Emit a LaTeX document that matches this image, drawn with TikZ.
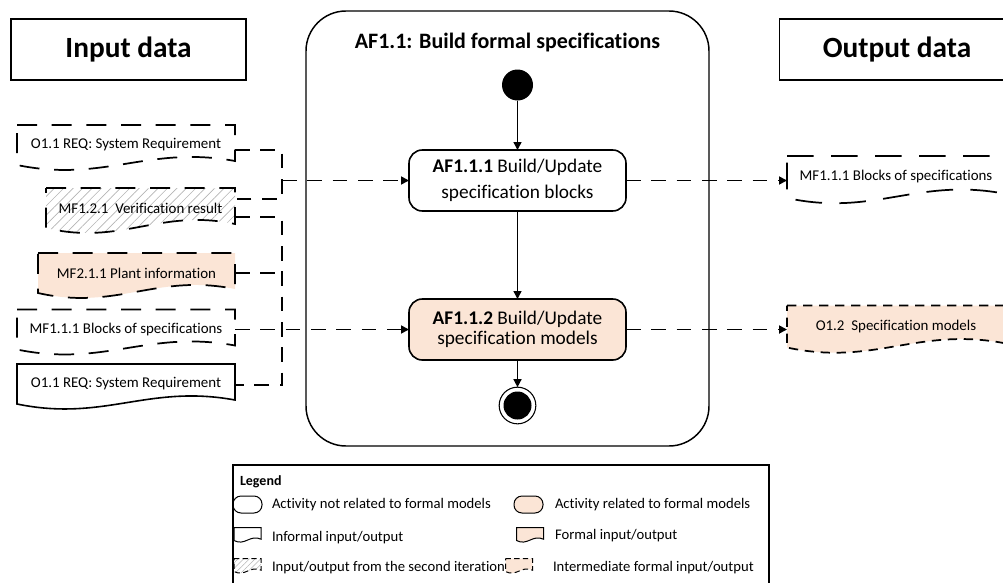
\documentclass[tikz,border=0pt]{standalone}
\usepackage{fontspec}
\setmainfont{Carlito}[Ligatures=CommonOff]
\usetikzlibrary{arrows.meta,calc,patterns.meta,backgrounds}
\definecolor{peach}{HTML}{FBE5D6}
\definecolor{hatchgray}{HTML}{B4B4B4}
\newcommand{\docshape}[2]{%
  \begin{pgfonlayer}{background}
  \path[#1] let \p1=(#2.north west), \p2=(#2.south east), \n1={\x2-\x1}, \n2={\y1-\y2} in
    (\x1,\y1) -- (\x2,\y1) -- (\x2,\y2+0.1*\n2)
    .. controls (\x1+0.6*\n1,\y2+0.5*\n2) and (\x1+0.4*\n1,\y2-0.45*\n2) .. (\x1,\y2) -- cycle;
  \end{pgfonlayer}}
\tikzset{
  every node/.style={inner sep=0pt, outer sep=0pt},
  docn/.style={minimum height=30pt, font=\fontsize{11.2}{13}\selectfont},
  legn/.style={anchor=west, font=\fontsize{11}{13}\selectfont},
  informal/.style={draw, line width=1.2pt},
  dashdoc/.style={draw, line width=1.3pt, dash pattern=on 15pt off 11pt},
  dashdocb/.style={draw, line width=1.3pt, dash pattern=on 20pt off 13pt},
  dashdocs/.style={draw, line width=1.3pt, dash pattern=on 7pt off 5pt},
  hatchdoc/.style={dashdoc, pattern={Lines[angle=45,distance=5pt,line width=0.5pt]}, pattern color=hatchgray},
  peachdash/.style={dashdoc, fill=peach},
  titlebox/.style={draw, line width=1.1pt, minimum width=176.25pt, minimum height=45.75pt, font=\bfseries\fontsize{22}{26}\selectfont},
  activity/.style={draw, line width=1.2pt, rounded corners=10pt, minimum width=162.75pt, minimum height=45.75pt, align=center},
  conn/.style={line width=1.3pt, dash pattern=on 11pt off 8pt},
  tip/.style={-{Triangle[length=6pt,width=6pt]}},
  flow/.style={line width=1.1pt, tip},
  legicon/.style={line width=0.75pt},
}
\begin{document}
\begin{tikzpicture}[x=0.75pt,y=-0.75pt]
\useasboundingbox (0,0) rectangle (1003,582);

% headers
\node[titlebox] (indata) at (128.5,49.5) {Input data};
\node[titlebox] (outdata) at (897,49.5) {Output data};

% container
\node[draw, line width=1.1pt, rounded corners=30pt, minimum width=302.25pt, minimum height=326.25pt] (ctr) at (507.5,228.5) {};
\node[font=\bfseries\fontsize{16.5}{20}\selectfont] (ctitle) at (507.5,43) {AF1.1: Build formal specifications};

% activity flow
\node[circle, fill=black, minimum size=23.25pt] (init) at (517.5,85) {};
\node[activity, font=\fontsize{14.5}{20}\selectfont] (af1) at (517.5,180.5) {\textbf{AF1.1.1} Build/Update\\specification blocks};
\node[activity, fill=peach, font=\fontsize{14.5}{14.5}\selectfont] (af2) at (517.5,329.5) {\textbf{AF1.1.2} Build/Update\\specification models};
\node[circle, draw, line width=0.8pt, minimum size=27.5pt] (fin) at (517.5,405.5) {};
\fill (fin.center) circle (10.5pt);
\draw[flow] (init) -- (af1);
\draw[flow] (af1) -- (af2);
\draw[flow] (af2) -- (fin);

% input documents
\node[docn, minimum width=163.5pt] (d1) at (126,145) {O1.1 REQ: System Requirement};
\docshape{dashdoc}{d1}
\node[docn, minimum width=141.75pt] (d2) at (140.5,208) {MF1.2.1\ \ Verification result};
\docshape{hatchdoc}{d2}
\node[docn, minimum width=147.75pt] (d3) at (136.5,273) {MF2.1.1 Plant information};
\docshape{peachdash}{d3}
\node[docn, minimum width=163.5pt] (d4) at (126,329.5) {MF1.1.1 Blocks of specifications};
\docshape{dashdoc}{d4}
\node[docn, minimum width=163.5pt] (d5) at (126,384) {O1.1 REQ: System Requirement};
\docshape{informal}{d5}

% output documents
\node[docn, minimum width=163.5pt, minimum height=31.5pt] (o1) at (896,177) {MF1.1.1 Blocks of specifications};
\docshape{dashdocb}{o1}
\node[docn, minimum width=163.5pt, minimum height=31.5pt] (o2) at (896,326.5) {O1.2\ \ Specification models};
\docshape{dashdocs, fill=peach}{o2}

% input connectors
\coordinate (b1t) at (282,150);
\coordinate (b1b) at (282,199);
\draw[conn] (d1.east |- b1t) -- (b1t) -- (b1b) -- (d2.east |- b1b);
\draw[conn, tip] (b1t |- af1.west) -- (af1.west);
\coordinate (b2t) at (282,217);
\coordinate (b2b) at (282,385);
\draw[conn] (d2.east |- b2t) -- (b2t) -- (b2b) -- (d5.east |- b2b);
\draw[conn] (d3.east) -- (d3.east -| b2t);
\draw[conn, tip] (d4.east |- af2.west) -- (af2.west);

% output connectors
\draw[conn, tip] (af1.east) -- (o1.west |- af1.east);
\draw[conn, tip] (af2.east) -- (o2.west |- af2.east);

% legend
\node[draw, line width=0.8pt, minimum width=402pt, minimum height=101.25pt] (leg) at (501,532.5) {};
\node[anchor=west, font=\bfseries\fontsize{10.5}{12}\selectfont] (legt) at (240,482) {Legend};
\node[draw, legicon, rounded corners=6pt, minimum width=21.75pt, minimum height=12.75pt] (lo1) at (247.5,504.5) {};
\node[legn] (lt1) at (272,505) {Activity not related to formal models};
\node[draw, legicon, fill=peach, rounded corners=6pt, minimum width=21.75pt, minimum height=12.75pt] (lo2) at (528.5,504.5) {};
\node[legn] (lt2) at (555,505) {Activity related to formal models};
\node[minimum width=20.25pt, minimum height=9.75pt] (ld1) at (247.5,534) {};
\docshape{draw, legicon}{ld1}
\node[legn] (lt3) at (272,537.5) {Informal input/output};
\node[minimum width=20.25pt, minimum height=9.75pt] (ld2) at (530,534) {};
\docshape{draw, legicon, fill=peach}{ld2}
\node[legn] (lt4) at (555,536) {Formal input/output};
\node[minimum width=20.25pt, minimum height=9.75pt] (ld3) at (247.5,565) {};
\docshape{draw, legicon, dash pattern=on 4pt off 2.5pt, pattern={Lines[angle=45,distance=3pt,line width=0.4pt]}, pattern color=hatchgray}{ld3}
\node[legn] (lt5) at (272,568) {Input/output from the second iteration};
\node[minimum width=20.25pt, minimum height=9.75pt] (ld4) at (519,565) {};
\docshape{draw, legicon, dash pattern=on 4pt off 2.5pt, fill=peach}{ld4}
\node[legn] (lt6) at (553,568) {Intermediate formal input/output};
\end{tikzpicture}
\end{document}
